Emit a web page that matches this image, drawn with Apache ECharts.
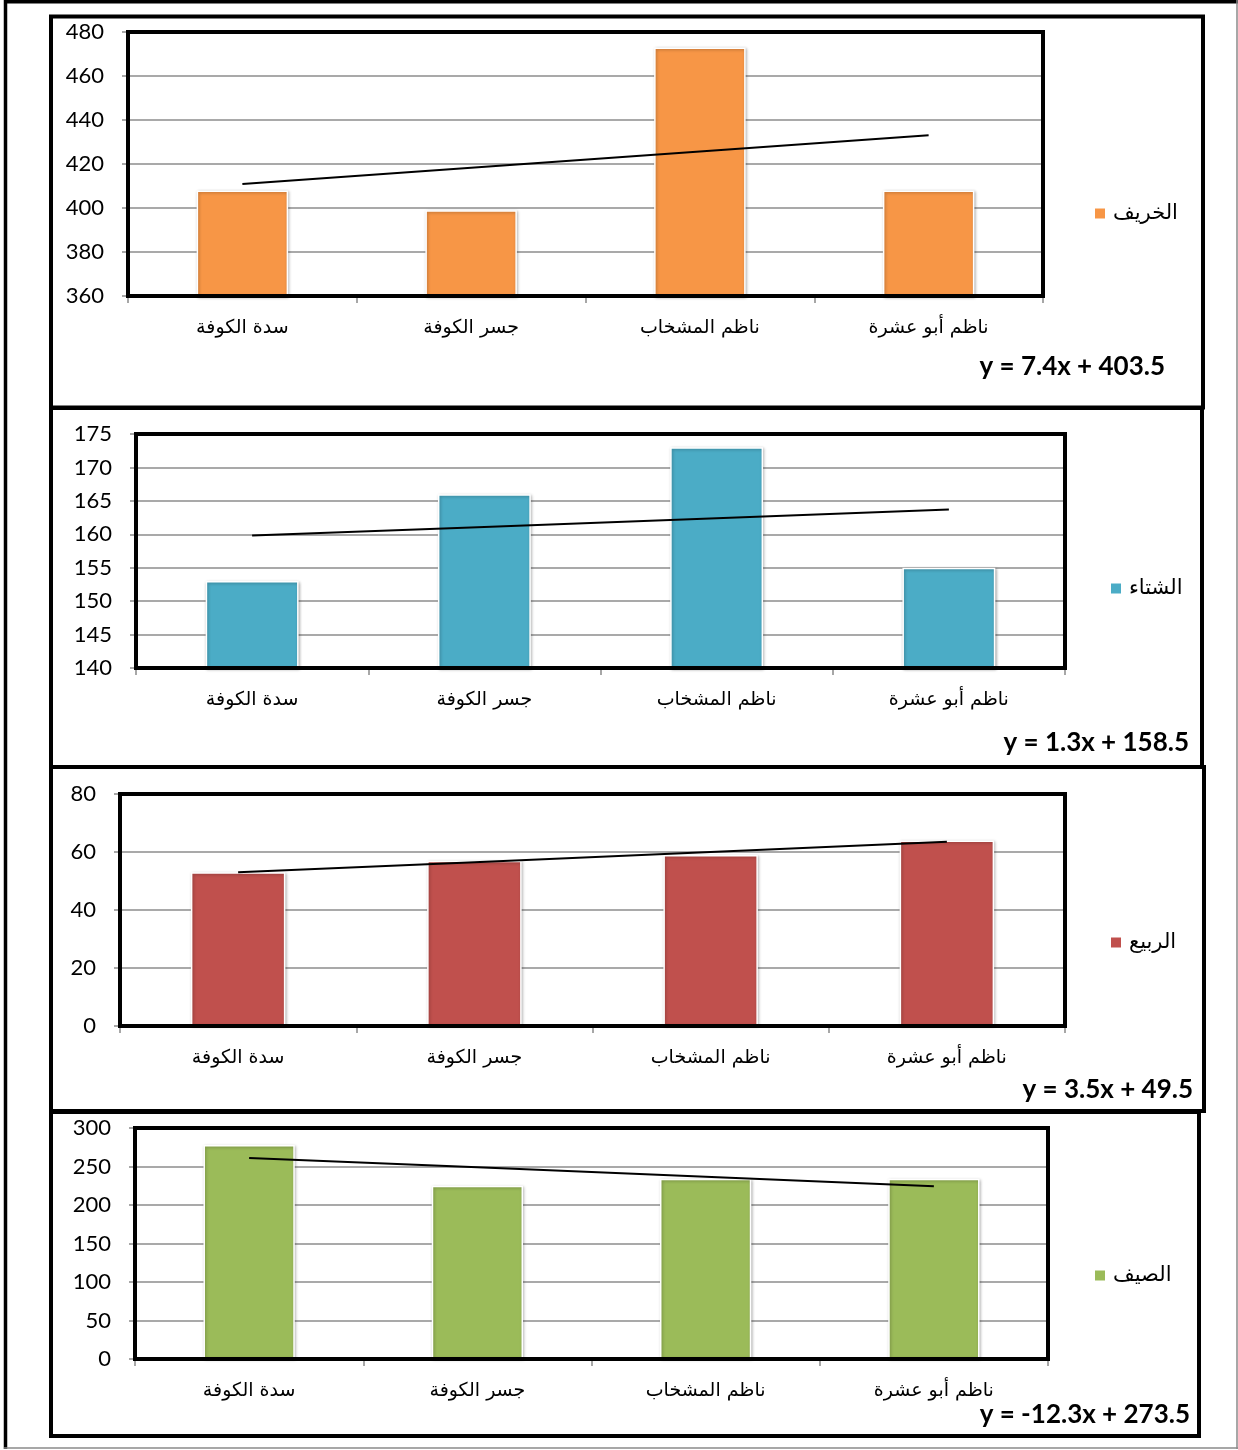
<!DOCTYPE html>
<html>
<head>
<meta charset="utf-8">
<script src="https://cdn.jsdelivr.net/npm/echarts@6/dist/echarts.min.js"></script>
<style>
  html, body { margin: 0; padding: 0; background: #fff; }
  #chart { width: 1238px; height: 1450px; }
</style>
</head>
<body>
<div id="chart"></div>
<script>
// Sites along the river (category axis, same order in every panel)
const categories = ['سدة الكوفة', 'جسر الكوفة', 'ناظم المشخاب', 'ناظم أبو عشرة'];

// Season names (legend entries)
const seasonNames = ['الخريف', 'الشتاء', 'الربيع', 'الصيف'];

// Values per season, one per site
const autumnValues = [408, 399, 473, 408];
const winterValues = [153, 166, 173, 155];
const springValues = [53, 57, 59, 64];
const summerValues = [278, 225, 234, 234];

// Value-axis ticks for each panel
const autumnTicks = [360, 380, 400, 420, 440, 460, 480];
const winterTicks = [140, 145, 150, 155, 160, 165, 170, 175];
const springTicks = [0, 20, 40, 60, 80];
const summerTicks = [0, 50, 100, 150, 200, 250, 300];

const seasonColors = ['#F79646', '#4BACC6', '#C0504D', '#9BBB59'];

// Page layout of the four stacked panels
const panels = [
  { values: autumnValues, ticks: autumnTicks,
    grid: { left: 128, top: 32, width: 915, height: 264 },
    box: { x: 51, y: 16.5, w: 1152, h: 391 },
    legend: { left: 1088, top: 198 }, eq: { x: 1165, y: 367 } },
  { values: winterValues, ticks: winterTicks,
    grid: { left: 136, top: 434, width: 929, height: 234 },
    box: { x: 51, y: 408, w: 1151, h: 359 },
    legend: { left: 1104, top: 573 }, eq: { x: 1189, y: 743 } },
  { values: springValues, ticks: springTicks,
    grid: { left: 120, top: 794, width: 945, height: 232 },
    box: { x: 51, y: 767, w: 1153, h: 344 },
    legend: { left: 1104, top: 927 }, eq: { x: 1193, y: 1090 } },
  { values: summerValues, ticks: summerTicks,
    grid: { left: 135, top: 1128, width: 913, height: 231 },
    box: { x: 51, y: 1112, w: 1148, h: 324 },
    legend: { left: 1088, top: 1260 }, eq: { x: 1190, y: 1415 } }
];

// Least-squares line through (1..n, values)
function linearFit(vals) {
  const n = vals.length;
  const xs = vals.map((_, i) => i + 1);
  const mx = xs.reduce((a, b) => a + b, 0) / n;
  const my = vals.reduce((a, b) => a + b, 0) / n;
  let sxy = 0, sxx = 0;
  for (let i = 0; i < n; i++) {
    sxy += (xs[i] - mx) * (vals[i] - my);
    sxx += (xs[i] - mx) * (xs[i] - mx);
  }
  const slope = sxy / sxx;
  const intercept = my - slope * mx;
  return { slope, intercept, points: xs.map(x => slope * x + intercept) };
}

function equationText(fit) {
  const s = Math.round(fit.slope * 10) / 10;
  const b = Math.round(fit.intercept * 10) / 10;
  const sign = b < 0 ? ' - ' : ' + ';
  return 'y = ' + s.toFixed(1) + 'x' + sign + Math.abs(b).toFixed(1);
}

const arabicFont = '"DejaVu Sans", "Noto Sans", sans-serif';
const numFont = 'Lato, "Open Sans", sans-serif';

const grids = [], xAxes = [], yAxes = [], series = [], legends = [], graphics = [];

// Outer page frame
graphics.push(
  { type: 'line', shape: { x1: 4, y1: 1.5, x2: 1238, y2: 1.5 }, style: { stroke: '#000', lineWidth: 4 }, z: 100 },
  { type: 'line', shape: { x1: 5.5, y1: 0, x2: 5.5, y2: 1449 }, style: { stroke: '#000', lineWidth: 3.5 }, z: 100 },
  { type: 'line', shape: { x1: 1237, y1: 0, x2: 1237, y2: 1449 }, style: { stroke: '#8a8a8a', lineWidth: 1.5 }, z: 100 },
  { type: 'line', shape: { x1: 4, y1: 1448, x2: 1238, y2: 1448 }, style: { stroke: '#8a8a8a', lineWidth: 1.5 }, z: 100 }
);

panels.forEach((p, i) => {
  const fit = linearFit(p.values);
  grids.push({
    left: p.grid.left, top: p.grid.top, width: p.grid.width, height: p.grid.height,
    show: true, borderColor: '#000', borderWidth: 4, backgroundColor: 'transparent',
    containLabel: false, outerBoundsMode: 'none', z: 5
  });
  xAxes.push({
    type: 'category', gridIndex: i, data: categories, boundaryGap: true,
    axisLine: { show: false },
    axisTick: { show: true, length: 7, lineStyle: { color: '#8a8a8a', width: 1.5 } },
    axisLabel: { color: '#000', fontFamily: arabicFont, fontSize: 19, margin: 23 },
    splitLine: { show: false }
  });
  yAxes.push({
    type: 'value', gridIndex: i,
    min: p.ticks[0], max: p.ticks[p.ticks.length - 1],
    interval: p.ticks[1] - p.ticks[0],
    axisLine: { show: false },
    axisTick: { show: true, length: 6, lineStyle: { color: '#8a8a8a', width: 1.5 } },
    axisLabel: { color: '#000', fontFamily: numFont, fontSize: 22, margin: 24 },
    splitLine: { show: true, lineStyle: { color: '#8c8c8c', width: 1.5 } }
  });
  series.push({
    type: 'bar', name: seasonNames[i], xAxisIndex: i, yAxisIndex: i,
    data: p.values, barWidth: '40%',
    itemStyle: {
      color: seasonColors[i], borderColor: '#fff', borderWidth: 1.5,
      shadowColor: 'rgba(0,0,0,0.3)', shadowBlur: 3, shadowOffsetX: 1, shadowOffsetY: 1
    },
    z: 2
  });
  series.push({
    type: 'line', name: seasonNames[i] + ' - اتجاه', xAxisIndex: i, yAxisIndex: i,
    data: fit.points, showSymbol: false, symbol: 'none',
    lineStyle: { color: '#000', width: 2 }, z: 4, silent: true
  });
  legends.push({
    data: [seasonNames[i]], left: p.legend.left, top: p.legend.top,
    orient: 'vertical', icon: 'rect', itemWidth: 12, itemHeight: 12, itemGap: 6,
    textStyle: { color: '#000', fontFamily: arabicFont, fontSize: 21, padding: [0, 0, 0, 2] }
  });
  graphics.push({
    type: 'rect', shape: { x: p.box.x, y: p.box.y, width: p.box.w, height: p.box.h },
    style: { fill: 'none', stroke: '#000', lineWidth: 4 }, z: 50
  });
  graphics.push({
    type: 'text', x: p.eq.x, y: p.eq.y, z: 60,
    style: {
      text: equationText(fit), fill: '#000', align: 'right', verticalAlign: 'middle',
      fontFamily: numFont, fontWeight: 'bold', fontSize: 26
    }
  });
});

const chart = echarts.init(document.getElementById('chart'), null, { renderer: 'canvas' });
chart.setOption({
  animation: false,
  backgroundColor: '#fff',
  grid: grids,
  xAxis: xAxes,
  yAxis: yAxes,
  legend: legends,
  series: series,
  graphic: graphics
});
</script>
</body>
</html>
